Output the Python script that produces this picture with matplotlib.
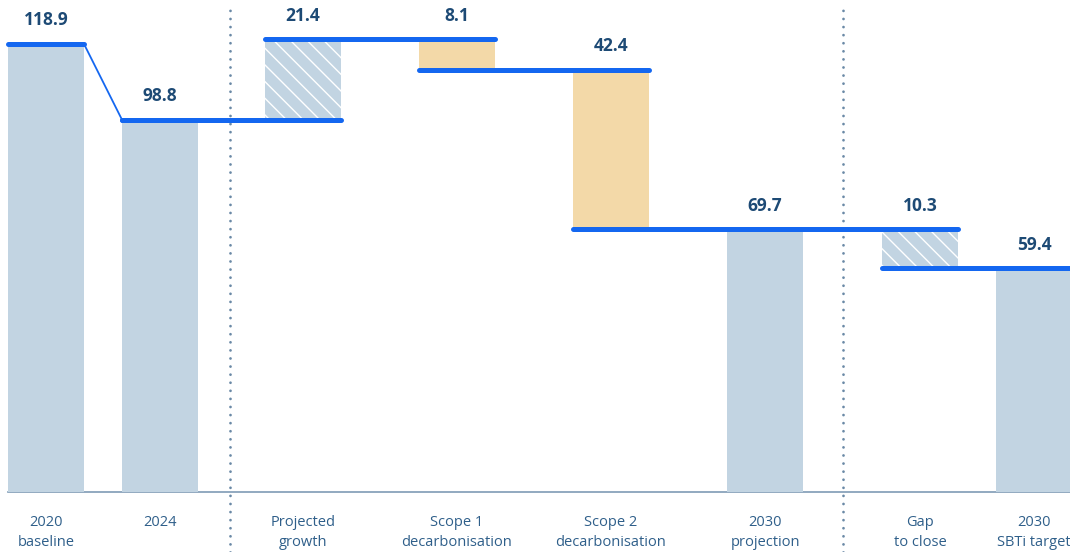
import matplotlib.pyplot as plt
import numpy as np

plt.rcParams['font.family'] = ['Open Sans', 'DejaVu Sans']
plt.rcParams['hatch.linewidth'] = 1.0

# chart data
categories = ['2020\nbaseline', '2024', 'Projected\ngrowth', 'Scope 1\ndecarbonisation',
              'Scope 2\ndecarbonisation', '2030\nprojection', 'Gap\nto close', '2030\nSBTi target']
values = [118.9, 98.8, 21.4, -8.1, -42.4, 69.7, -10.3, 59.4]
kinds = ['total', 'total', 'growth', 'cut', 'cut', 'total', 'gap', 'total']
labels = ['118.9', '98.8', '21.4', '8.1', '42.4', '69.7', '10.3', '59.4']

# layout (pixel-like x positions)
xpos = [46, 160, 303, 457, 611, 765, 920, 1034]
width = 76
dividers = [230, 843]

c_bar = '#c2d4e2'
c_cut = '#f3d9a8'
c_line = '#1467f0'
c_text = '#1d4a75'
c_tick = '#2f5f8a'

fig = plt.figure(figsize=(10.7, 5.52), dpi=100)
ax = fig.add_axes([0, 0, 1, 1])
scale = 448 / 118.9
ax.set_xlim(0, 1070)
ax.set_ylim(-60 / scale, 492 / scale)
ax.axis('off')

# running totals
starts, ends = [], []
level = 0
for v, k in zip(values, kinds):
    if k == 'total':
        starts.append(v); ends.append(v); level = v
    else:
        starts.append(level); level = level + v; ends.append(level)

for i, (x, k) in enumerate(zip(xpos, kinds)):
    if k == 'total':
        ax.bar(x, values[i], width, color=c_bar, linewidth=0, zorder=2)
    else:
        lo, hi = min(starts[i], ends[i]), max(starts[i], ends[i])
        if k == 'cut':
            ax.bar(x, hi - lo, width, bottom=lo, color=c_cut, linewidth=0, zorder=2)
        else:
            ax.bar(x, hi - lo, width, bottom=lo, color=c_bar, edgecolor='white',
                   hatch='\\\\', linewidth=0, zorder=2)

# level lines
lw = 3.6
left = [x - width / 2 for x in xpos]
right = [x + width / 2 for x in xpos]
ax.plot([left[0], right[0]], [ends[0], ends[0]], color=c_line, lw=lw,
        solid_capstyle='round', zorder=4)
for i in range(len(xpos) - 1):
    if abs(starts[i + 1] - ends[i]) < 1e-9:
        ax.plot([left[i], right[i + 1]], [ends[i], ends[i]], color=c_line, lw=lw,
                solid_capstyle='round', zorder=4)
    else:
        ax.plot([right[i], left[i + 1]], [ends[i], starts[i + 1]], color=c_line,
                lw=1.3, zorder=3)
        ax.plot([left[i + 1], right[i + 1]], [ends[i + 1], ends[i + 1]], color=c_line,
                lw=lw, solid_capstyle='round', zorder=4)

# value labels
for i, x in enumerate(xpos):
    top = max(starts[i], ends[i])
    ax.annotate(labels[i], (x, top), xytext=(0, 10.5), textcoords='offset points',
                ha='center', va='bottom', fontsize=12.5, fontweight='bold', color=c_text)

# baseline and category labels
ax.plot([8, 1070], [0, 0], color='#7f9bb5', lw=1.2, zorder=1)
for x, c in zip(xpos, categories):
    ax.text(x, -23 / scale, c, ha='center', va='top', fontsize=10.5, color=c_tick,
            linespacing=1.5)

# dotted dividers
for d in dividers:
    ax.plot([d, d], [-60 / scale, 484 / scale], color='#6a89a6', lw=2.0,
            linestyle=(0, (0.01, 2.9)), dash_capstyle='round', zorder=1)

fig.savefig('out.png', dpi=100)
